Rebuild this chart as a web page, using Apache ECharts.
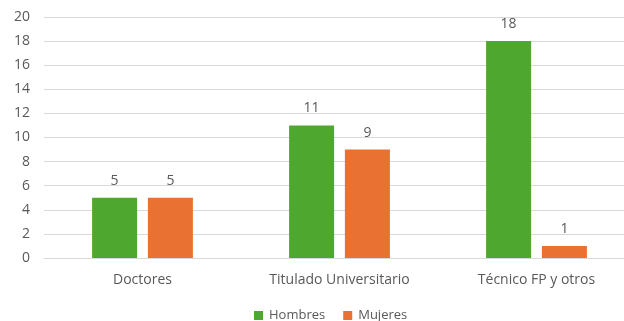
<!DOCTYPE html>
<html>
<head>
<meta charset="utf-8">
<script src="https://cdn.jsdelivr.net/npm/echarts@6/dist/echarts.min.js"></script>
<style>
  html, body { margin: 0; padding: 0; background: #fff; overflow: hidden; width: 624px; height: 321px; }
  #chart { width: 640px; height: 321px; }
</style>
</head>
<body>
<div id="chart"></div>
<script>
const categories = ['Doctores', 'Titulado Universitario', 'Técnico FP y otros'];
const hombres = [5, 11, 18];
const mujeres = [5, 9, 1];
const yTicks = { min: 0, max: 20, step: 2 };

const textColor = '#595959';
const fontFamily = '"Open Sans", "Noto Sans", sans-serif';

const chart = echarts.init(document.getElementById('chart'), null, { renderer: 'canvas' });

const label = {
  show: true,
  position: 'top',
  distance: 10,
  color: textColor,
  fontSize: 14,
  fontFamily: fontFamily
};

chart.setOption({
  animation: false,
  grid: { left: 44, top: 17, width: 591, height: 241, containLabel: false },
  legend: {
    top: 309,
    left: 254,
    padding: 0,
    itemWidth: 9,
    itemHeight: 9,
    itemGap: 18,
    icon: 'rect',
    textStyle: { color: textColor, fontSize: 13, fontFamily: fontFamily, padding: [0, 0, 0, 1] },
    data: ['Hombres', 'Mujeres']
  },
  xAxis: {
    type: 'category',
    data: categories,
    axisLine: { lineStyle: { color: '#d9d9d9', width: 1 } },
    axisTick: { show: false },
    axisLabel: { color: textColor, fontSize: 14, fontFamily: fontFamily, margin: 15 }
  },
  yAxis: {
    type: 'value',
    min: yTicks.min,
    max: yTicks.max,
    interval: yTicks.step,
    axisLine: { show: false },
    axisTick: { show: false },
    splitLine: { lineStyle: { color: '#d9d9d9', width: 1 } },
    axisLabel: { color: textColor, fontSize: 14, fontFamily: fontFamily, margin: 14 }
  },
  series: [
    {
      name: 'Hombres',
      type: 'bar',
      data: hombres,
      barWidth: 45,
      barGap: '24%',
      itemStyle: { color: '#4EA72E' },
      label: label
    },
    {
      name: 'Mujeres',
      type: 'bar',
      data: mujeres,
      barWidth: 45,
      barGap: '24%',
      itemStyle: { color: '#E97132' },
      label: label
    }
  ]
});
</script>
</body>
</html>
